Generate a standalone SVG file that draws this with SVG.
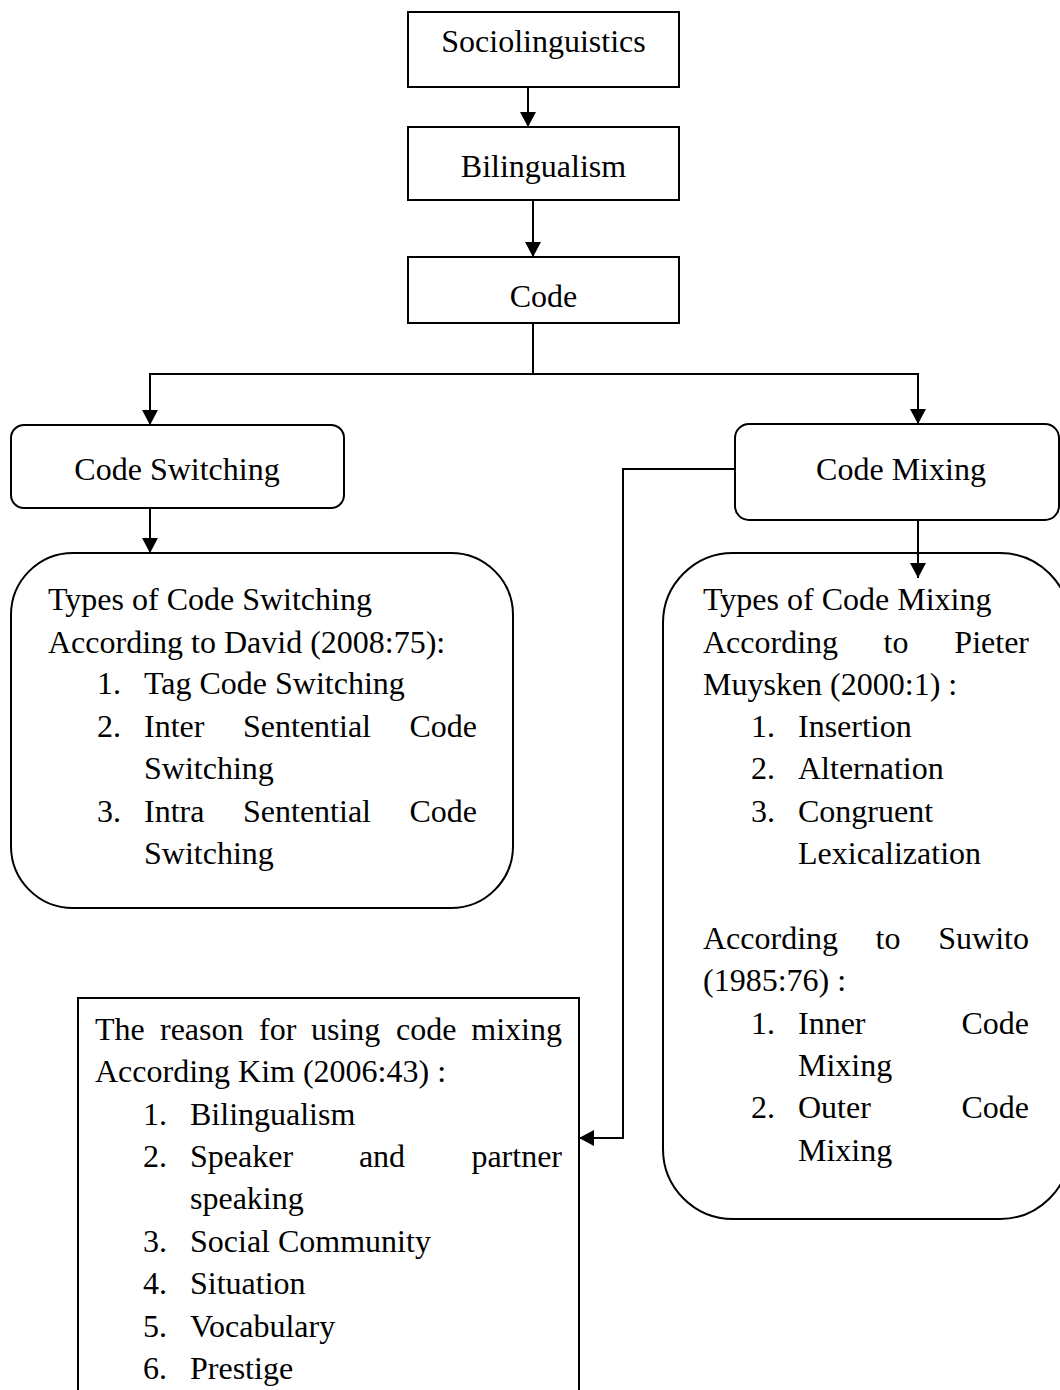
<svg xmlns="http://www.w3.org/2000/svg" width="1060" height="1390" viewBox="0 0 1060 1390">
<style>
.box{fill:#fff;stroke:#000;stroke-width:2}
.ln{fill:none;stroke:#000;stroke-width:2}
text{font-family:"Liberation Serif","Times New Roman",serif;font-size:32px;fill:#000}
.c{text-anchor:middle}
.e{text-anchor:end}
</style>
<defs>
<marker id="ah" markerUnits="userSpaceOnUse" markerWidth="16" markerHeight="16" refX="15" refY="8" orient="auto">
<path d="M0,0 L15,8 L0,16 z" fill="#000"/>
</marker>
</defs>
<rect width="1060" height="1390" fill="#fff"/>
<g id="sociolinguistics">
<rect class="box" x="408" y="12" width="271" height="75"/>
<text class="c" x="543.5" y="52">Sociolinguistics</text>
</g>
<g id="bilingualism">
<rect class="box" x="408" y="127" width="271" height="73"/>
<text class="c" x="543.5" y="177">Bilingualism</text>
</g>
<g id="code">
<rect class="box" x="408" y="257" width="271" height="66"/>
<text class="c" x="543.5" y="307">Code</text>
</g>
<g id="code-switching">
<rect class="box" x="11" y="425" width="333" height="83" rx="13"/>
<text class="c" x="177" y="480">Code Switching</text>
</g>
<g id="code-mixing">
<rect class="box" x="735" y="424" width="324" height="96" rx="14"/>
<text class="c" x="901" y="480">Code Mixing</text>
</g>
<g id="types-code-switching">
<rect class="box" x="11" y="553" width="502" height="355" rx="62"/>
<text x="48" y="610">Types of Code Switching</text>
<text x="48" y="653">According to David (2008:75):</text>
<text x="97" y="694">1.</text><text x="144" y="694">Tag Code Switching</text>
<text x="97" y="737">2.</text><text x="144" y="737">Inter</text><text class="c" x="307" y="737">Sentential</text><text class="e" x="477" y="737">Code</text>
<text x="144" y="779">Switching</text>
<text x="97" y="822">3.</text><text x="144" y="822">Intra</text><text class="c" x="307" y="822">Sentential</text><text class="e" x="477" y="822">Code</text>
<text x="144" y="864">Switching</text>
</g>
<g id="types-code-mixing">
<rect class="box" x="663" y="553" width="407" height="666" rx="70"/>
<text x="703" y="610">Types of Code Mixing</text>
<text x="703" y="653">According</text><text class="c" x="896" y="653">to</text><text class="e" x="1029" y="653">Pieter</text>
<text x="703" y="695">Muysken (2000:1) :</text>
<text x="751" y="737">1.</text><text x="798" y="737">Insertion</text>
<text x="751" y="779">2.</text><text x="798" y="779">Alternation</text>
<text x="751" y="822">3.</text><text x="798" y="822">Congruent</text>
<text x="798" y="864">Lexicalization</text>
<text x="703" y="949">According</text><text class="c" x="888" y="949">to</text><text class="e" x="1029" y="949">Suwito</text>
<text x="703" y="991">(1985:76) :</text>
<text x="751" y="1034">1.</text><text x="798" y="1034">Inner</text><text class="e" x="1029" y="1034">Code</text>
<text x="798" y="1076">Mixing</text>
<text x="751" y="1118">2.</text><text x="798" y="1118">Outer</text><text class="e" x="1029" y="1118">Code</text>
<text x="798" y="1161">Mixing</text>
</g>
<g id="reason-code-mixing">
<rect class="box" x="78" y="998" width="501" height="420"/>
<text x="95" y="1040">The</text><text x="160" y="1040">reason</text><text x="259" y="1040">for</text><text x="311" y="1040">using</text><text x="396" y="1040">code</text><text class="e" x="562" y="1040">mixing</text>
<text x="95" y="1082">According Kim (2006:43) :</text>
<text x="143" y="1125">1.</text><text x="190" y="1125">Bilingualism</text>
<text x="143" y="1167">2.</text><text x="190" y="1167">Speaker</text><text class="c" x="382" y="1167">and</text><text class="e" x="562" y="1167">partner</text>
<text x="190" y="1209">speaking</text>
<text x="143" y="1252">3.</text><text x="190" y="1252">Social Community</text>
<text x="143" y="1294">4.</text><text x="190" y="1294">Situation</text>
<text x="143" y="1337">5.</text><text x="190" y="1337">Vocabulary</text>
<text x="143" y="1379">6.</text><text x="190" y="1379">Prestige</text>
</g>
<g id="connectors">
<line class="ln" x1="528" y1="87" x2="528" y2="127" marker-end="url(#ah)"/>
<line class="ln" x1="533" y1="200" x2="533" y2="257" marker-end="url(#ah)"/>
<polyline class="ln" points="533,323 533,374 150,374 150,425" marker-end="url(#ah)"/>
<polyline class="ln" points="533,374 918,374 918,424" marker-end="url(#ah)"/>
<line class="ln" x1="150" y1="508" x2="150" y2="553" marker-end="url(#ah)"/>
<line class="ln" x1="918" y1="520" x2="918" y2="578" marker-end="url(#ah)"/>
<polyline class="ln" points="735,469 623,469 623,1138 579,1138" marker-end="url(#ah)"/>
</g>
</svg>
